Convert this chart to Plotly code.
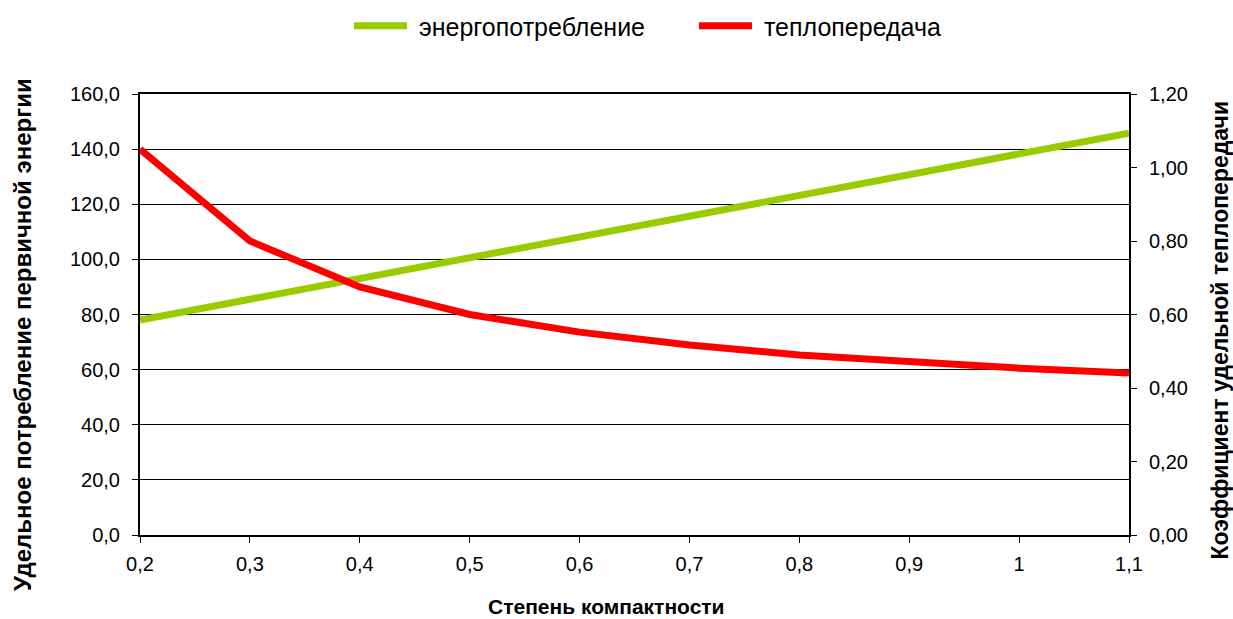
import plotly.graph_objects as go

# compactness degree (x axis)
compactness = [0.2, 0.3, 0.4, 0.5, 0.6, 0.7, 0.8, 0.9, 1.0, 1.1]
x_tick_labels = ["0,2", "0,3", "0,4", "0,5", "0,6", "0,7", "0,8", "0,9", "1", "1,1"]

# specific primary energy consumption (left axis)
energy_use = [78.0, 85.5, 93.1, 100.6, 108.1, 115.6, 123.1, 130.6, 138.2, 145.8]

# specific heat transfer coefficient (right axis)
heat_transfer = [1.05, 0.80, 0.675, 0.60, 0.552, 0.517, 0.490, 0.470, 0.454, 0.441]

left_ticks = [0, 20, 40, 60, 80, 100, 120, 140, 160]
right_ticks = [0.0, 0.2, 0.4, 0.6, 0.8, 1.0, 1.2]

FONT = "Liberation Sans, Arial, sans-serif"
TICK_SIZE = 20
NBSP = "\u00a0"

fig = go.Figure()
fig.add_trace(go.Scatter(
    x=compactness, y=energy_use, mode="lines", name=NBSP + "энергопотребление",
    line=dict(color="#99CC00", width=7), yaxis="y",
))
fig.add_trace(go.Scatter(
    x=compactness, y=heat_transfer, mode="lines", name=NBSP + "теплопередача",
    line=dict(color="#FF0000", width=7), yaxis="y2",
))

fig.update_layout(
    width=1233, height=619,
    margin=dict(l=140, r=104, t=94, b=84),
    paper_bgcolor="white", plot_bgcolor="white",
    separators=", ",
    font=dict(family=FONT, size=TICK_SIZE, color="#000000"),
    showlegend=True,
    legend=dict(
        orientation="h", x=0.2113, xanchor="left", y=0.995, yanchor="top",
        yref="container", font=dict(size=25), itemwidth=53,
        traceorder="normal", entrywidth=277, entrywidthmode="pixels",
    ),
    xaxis=dict(
        range=[0.2, 1.1], tickvals=compactness, ticktext=x_tick_labels,
        showgrid=False, zeroline=False,
        showline=True, linecolor="black", linewidth=2, mirror=True,
        ticks="outside", ticklen=6, tickcolor="black", tickwidth=1,
        tickfont=dict(size=TICK_SIZE), ticklabelstandoff=4,
    ),
    yaxis=dict(
        range=[0, 160], tickvals=left_ticks, tickformat=".1f",
        showgrid=True, gridcolor="black", gridwidth=1, zeroline=False,
        showline=True, linecolor="black", linewidth=2, mirror=True,
        ticks="outside", ticklen=6, tickcolor="black", tickwidth=1,
        tickfont=dict(size=TICK_SIZE), ticklabelstandoff=8,
    ),
    yaxis2=dict(
        range=[0, 1.2], tickvals=right_ticks, tickformat=".2f",
        overlaying="y", side="right", showgrid=False, zeroline=False,
        showline=True, linecolor="black", linewidth=2,
        ticks="outside", ticklen=6, tickcolor="black", tickwidth=1,
        tickfont=dict(size=TICK_SIZE), ticklabelstandoff=8,
    ),
    annotations=[
        dict(text="<b>Удельное потребление первичной энергии</b>",
             xref="paper", yref="paper", x=-0.1193, y=0.4535,
             xanchor="center", yanchor="middle", textangle=-90,
             showarrow=False, font=dict(size=24)),
        dict(text="<b>Коэффициент удельной теплопередачи</b>",
             xref="paper", yref="paper", x=1.0915, y=0.465,
             xanchor="center", yanchor="middle", textangle=-90,
             showarrow=False, font=dict(size=23)),
        dict(text="<b>Степень компактности</b>",
             xref="paper", yref="paper", x=0.472, y=-0.163,
             xanchor="center", yanchor="middle",
             showarrow=False, font=dict(size=21)),
    ],
)

fig.write_html("out.html")
